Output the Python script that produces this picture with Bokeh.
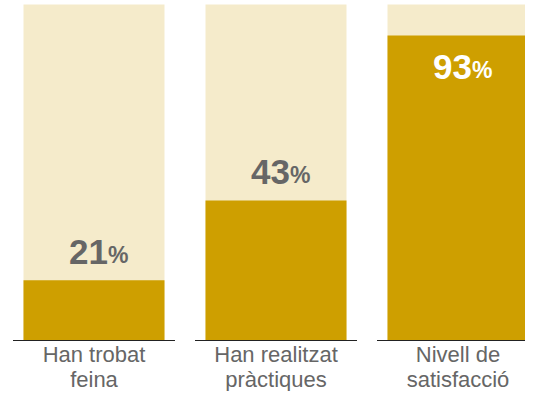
from bokeh.plotting import figure
from bokeh.models import ColumnDataSource, Range1d
from bokeh.core.properties import value
from bokeh.embed import file_html
from bokeh.resources import INLINE

# ---- data ----
categories = ["Han trobat\nfeina", "Han realitzat\npràctiques", "Nivell de\nsatisfacció"]
pct_labels = ["21", "43", "93"]          # printed values (%)
bar_heights = [17.9, 41.7, 90.8]         # bar heights as drawn (percent of the full column)
full_height = [100, 100, 100]

BEIGE = "#F5EBCB"
GOLD = "#CE9F00"
GREY = "#666666"
FONT = "Liberation Sans"

NUM_PX, PC_PX, CAT_PX = 35, 23, 22
SHIFT = 0.31  # baseline correction (em)

xs = list(range(len(categories)))
inside = [h > 70 for h in bar_heights]

src = ColumnDataSource(dict(
    x=xs,
    top=bar_heights,
    full=full_height,
    num=pct_labels,
    pc=["%"] * len(xs),
    color=["white" if i else GREY for i in inside],
    yoff_num=[(42 if i else -18) - SHIFT * NUM_PX for i in inside],
    yoff_pc=[(42 if i else -18) - SHIFT * PC_PX for i in inside],
    line1=[c.split("\n")[0] for c in categories],
    line2=[c.split("\n")[1] for c in categories],
    x0=[x - 0.445 for x in xs],
    x1=[x + 0.445 for x in xs],
    zero=[0] * len(xs),
))

p = figure(width=525, height=391, output_backend="svg", toolbar_location=None,
           x_range=Range1d(-0.5137, 2.3709), y_range=Range1d(-15.18, 101.19),
           min_border=0, min_border_left=0, min_border_right=0,
           min_border_top=0, min_border_bottom=0)
p.axis.visible = False
p.grid.visible = False
p.outline_line_color = None
p.background_fill_color = "white"
p.border_fill_color = "white"

p.vbar(x="x", top="full", bottom=0, width=0.7747, source=src,
       fill_color=BEIGE, line_color=None)
p.vbar(x="x", top="top", bottom=0, width=0.7747, source=src,
       fill_color=GOLD, line_color=None)

p.segment(x0="x0", y0="zero", x1="x1", y1="zero", source=src,
          line_color="#222222", line_width=1.2)

p.text(x="x", y="top", text="num", source=src, text_font=value(FONT),
       text_font_size=value(f"{NUM_PX}px"), text_font_style="bold",
       text_color="color", text_align="right", text_baseline="alphabetic",
       x_offset=14, y_offset="yoff_num")
p.text(x="x", y="top", text="pc", source=src, text_font=value(FONT),
       text_font_size=value(f"{PC_PX}px"), text_font_style="bold",
       text_color="color", text_align="left", text_baseline="alphabetic",
       x_offset=14, y_offset="yoff_pc")

p.text(x="x", y="zero", text="line1", source=src, text_font=value(FONT),
       text_font_size=value(f"{CAT_PX}px"), text_color=GREY, text_align="center",
       text_baseline="alphabetic", y_offset=21 - SHIFT * CAT_PX)
p.text(x="x", y="zero", text="line2", source=src, text_font=value(FONT),
       text_font_size=value(f"{CAT_PX}px"), text_color=GREY, text_align="center",
       text_baseline="alphabetic", y_offset=46 - SHIFT * CAT_PX)

open("out.html", "w").write(file_html(p, INLINE))
